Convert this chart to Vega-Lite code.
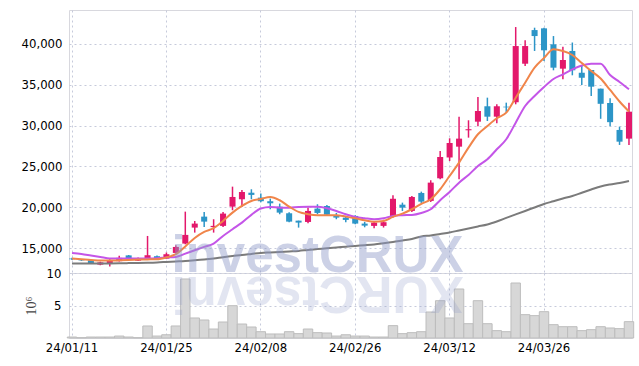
{
  "$schema": "https://vega.github.io/schema/vega-lite/v6.json",
  "padding": {"left": 20, "top": 9, "right": 9, "bottom": 5},
  "background": "white",
  "spacing": 0,
  "bounds": "flush",
  "config": {
    "font": "DejaVu Sans Condensed, sans-serif",
    "view": {"stroke": "#d8d8de"},
    "axis": {
      "labelFont": "DejaVu Sans Condensed",
      "labelFontSize": 13,
      "labelColor": "#000000",
      "labelFontWeight": "normal",
      "gridColor": "#c6cadb",
      "gridDash": [2, 3],
      "gridWidth": 1,
      "ticks": false,
      "domain": false
    }
  },
  "datasets": {
    "ohlc": [
      {"d": "24/01/11", "o": 13760, "h": 13850, "l": 13600, "c": 13680, "v": 0.15, "ma5": 13756, "ma10": 14451, "ma60": 13146},
      {"d": "24/01/12", "o": 13600, "h": 13700, "l": 13480, "c": 13540, "v": 0.05, "ma5": 13682, "ma10": 14329, "ma60": 13146},
      {"d": "24/01/15", "o": 13560, "h": 13600, "l": 13150, "c": 13200, "v": 0.15, "ma5": 13597, "ma10": 14146, "ma60": 13158},
      {"d": "24/01/16", "o": 13020, "h": 13380, "l": 12950, "c": 13300, "v": 0.15, "ma5": 13512, "ma10": 13963, "ma60": 13170},
      {"d": "24/01/17", "o": 13200, "h": 13680, "l": 12800, "c": 13500, "v": 0.15, "ma5": 13512, "ma10": 13780, "ma60": 13170},
      {"d": "24/01/18", "o": 13440, "h": 14100, "l": 13400, "c": 13850, "v": 0.3, "ma5": 13560, "ma10": 13756, "ma60": 13182},
      {"d": "24/01/19", "o": 14150, "h": 14200, "l": 13600, "c": 13650, "v": 0.15, "ma5": 13597, "ma10": 13780, "ma60": 13207},
      {"d": "24/01/22", "o": 13500, "h": 13900, "l": 13450, "c": 13780, "v": 0.05, "ma5": 13634, "ma10": 13780, "ma60": 13231},
      {"d": "24/01/23", "o": 13680, "h": 16520, "l": 13650, "c": 14170, "v": 1.85, "ma5": 13658, "ma10": 13780, "ma60": 13255},
      {"d": "24/01/24", "o": 14050, "h": 14150, "l": 13650, "c": 13700, "v": 0.3, "ma5": 13682, "ma10": 13804, "ma60": 13292},
      {"d": "24/01/25", "o": 13750, "h": 14500, "l": 13700, "c": 14290, "v": 0.5, "ma5": 13902, "ma10": 13902, "ma60": 13353},
      {"d": "24/01/26", "o": 14450, "h": 15400, "l": 14400, "c": 15180, "v": 1.85, "ma5": 14292, "ma10": 13963, "ma60": 13414},
      {"d": "24/01/29", "o": 15590, "h": 19490, "l": 15500, "c": 16650, "v": 9.08, "ma5": 15244, "ma10": 14366, "ma60": 13475},
      {"d": "24/01/30", "o": 17540, "h": 18350, "l": 16930, "c": 18030, "v": 3.08, "ma5": 16281, "ma10": 14780, "ma60": 13560},
      {"d": "24/01/31", "o": 18880, "h": 19450, "l": 17620, "c": 18270, "v": 2.77, "ma5": 17013, "ma10": 15183, "ma60": 13658},
      {"d": "24/02/01", "o": 17600, "h": 18560, "l": 16930, "c": 17750, "v": 1.38, "ma5": 17464, "ma10": 15586, "ma60": 13780},
      {"d": "24/02/02", "o": 17750, "h": 19450, "l": 17600, "c": 19250, "v": 2.46, "ma5": 18355, "ma10": 16525, "ma60": 13926},
      {"d": "24/02/05", "o": 20100, "h": 22540, "l": 19660, "c": 21280, "v": 4.97, "ma5": 19368, "ma10": 17342, "ma60": 14061},
      {"d": "24/02/06", "o": 21000, "h": 22140, "l": 20060, "c": 21890, "v": 2.15, "ma5": 20185, "ma10": 18148, "ma60": 14207},
      {"d": "24/02/07", "o": 21800, "h": 22220, "l": 21000, "c": 21530, "v": 1.69, "ma5": 20795, "ma10": 19100, "ma60": 14329},
      {"d": "24/02/08", "o": 21200, "h": 21690, "l": 20640, "c": 20760, "v": 0.97, "ma5": 21039, "ma10": 19880, "ma60": 14451},
      {"d": "24/02/13", "o": 20760, "h": 21080, "l": 19780, "c": 20510, "v": 0.62, "ma5": 21283, "ma10": 20063, "ma60": 14512},
      {"d": "24/02/14", "o": 20100, "h": 20470, "l": 19170, "c": 19370, "v": 0.62, "ma5": 20880, "ma10": 19978, "ma60": 14573},
      {"d": "24/02/15", "o": 19290, "h": 19400, "l": 18200, "c": 18270, "v": 0.97, "ma5": 20100, "ma10": 19978, "ma60": 14634},
      {"d": "24/02/16", "o": 18390, "h": 18390, "l": 17540, "c": 18150, "v": 0.67, "ma5": 19453, "ma10": 20063, "ma60": 14695},
      {"d": "24/02/19", "o": 18230, "h": 19980, "l": 18075, "c": 19575, "v": 1.38, "ma5": 19172, "ma10": 20100, "ma60": 14817},
      {"d": "24/02/20", "o": 19860, "h": 20390, "l": 19170, "c": 19330, "v": 0.82, "ma5": 19050, "ma10": 20100, "ma60": 14915},
      {"d": "24/02/21", "o": 20185, "h": 20300, "l": 19050, "c": 19120, "v": 0.77, "ma5": 19050, "ma10": 19904, "ma60": 15024},
      {"d": "24/02/22", "o": 19050, "h": 19330, "l": 18560, "c": 18760, "v": 0.3, "ma5": 19050, "ma10": 19575, "ma60": 15122},
      {"d": "24/02/23", "o": 18760, "h": 19000, "l": 18200, "c": 18480, "v": 0.5, "ma5": 18880, "ma10": 19172, "ma60": 15207},
      {"d": "24/02/26", "o": 18965, "h": 19050, "l": 17950, "c": 18030, "v": 0.3, "ma5": 18684, "ma10": 18843, "ma60": 15305},
      {"d": "24/02/27", "o": 18030, "h": 18250, "l": 17580, "c": 17780, "v": 0.3, "ma5": 18440, "ma10": 18684, "ma60": 15390},
      {"d": "24/02/28", "o": 17750, "h": 18355, "l": 17460, "c": 18150, "v": 0.15, "ma5": 18270, "ma10": 18562, "ma60": 15488},
      {"d": "24/02/29", "o": 17750, "h": 18500, "l": 17550, "c": 18200, "v": 0.15, "ma5": 18355, "ma10": 18684, "ma60": 15634},
      {"d": "24/03/04", "o": 18880, "h": 21490, "l": 18760, "c": 21060, "v": 1.9, "ma5": 18843, "ma10": 18965, "ma60": 15793},
      {"d": "24/03/05", "o": 20340, "h": 20590, "l": 19575, "c": 19980, "v": 0.67, "ma5": 19246, "ma10": 19050, "ma60": 15976},
      {"d": "24/03/06", "o": 19575, "h": 21400, "l": 19450, "c": 21280, "v": 0.82, "ma5": 19782, "ma10": 19087, "ma60": 16159},
      {"d": "24/03/07", "o": 21770, "h": 21930, "l": 20550, "c": 20710, "v": 0.97, "ma5": 20429, "ma10": 19331, "ma60": 16464},
      {"d": "24/03/08", "o": 20800, "h": 23320, "l": 20670, "c": 23030, "v": 4.0, "ma5": 21002, "ma10": 19782, "ma60": 16586},
      {"d": "24/03/11", "o": 23560, "h": 26900, "l": 23440, "c": 26160, "v": 5.74, "ma5": 22222, "ma10": 20880, "ma60": 16769},
      {"d": "24/03/12", "o": 26100, "h": 28440, "l": 25670, "c": 27870, "v": 3.08, "ma5": 23845, "ma10": 21893, "ma60": 16952},
      {"d": "24/03/13", "o": 27420, "h": 31080, "l": 23440, "c": 28400, "v": 7.54, "ma5": 25468, "ma10": 23028, "ma60": 17196},
      {"d": "24/03/14", "o": 29420, "h": 30640, "l": 28520, "c": 29550, "v": 2.2, "ma5": 27298, "ma10": 23967, "ma60": 17440},
      {"d": "24/03/15", "o": 30470, "h": 33480, "l": 29910, "c": 31775, "v": 5.74, "ma5": 28932, "ma10": 25065, "ma60": 17684},
      {"d": "24/03/18", "o": 32350, "h": 33400, "l": 30550, "c": 31080, "v": 2.2, "ma5": 29945, "ma10": 25882, "ma60": 17928},
      {"d": "24/03/19", "o": 31080, "h": 32590, "l": 30270, "c": 32350, "v": 1.13, "ma5": 30884, "ma10": 27102, "ma60": 18294},
      {"d": "24/03/20", "o": 32300, "h": 32790, "l": 31570, "c": 32220, "v": 0.97, "ma5": 31568, "ma10": 28322, "ma60": 18721},
      {"d": "24/03/21", "o": 32840, "h": 42020, "l": 32590, "c": 39700, "v": 8.46, "ma5": 33398, "ma10": 30348, "ma60": 19148},
      {"d": "24/03/22", "o": 37545, "h": 40400, "l": 37270, "c": 39700, "v": 3.59, "ma5": 35228, "ma10": 32385, "ma60": 19575},
      {"d": "24/03/25", "o": 41650, "h": 41940, "l": 39100, "c": 40920, "v": 3.44, "ma5": 37058, "ma10": 33605, "ma60": 20002},
      {"d": "24/03/26", "o": 41860, "h": 41940, "l": 37870, "c": 39180, "v": 4.05, "ma5": 38241, "ma10": 34703, "ma60": 20429},
      {"d": "24/03/27", "o": 39910, "h": 40920, "l": 36740, "c": 37060, "v": 2.05, "ma5": 39302, "ma10": 35679, "ma60": 20758},
      {"d": "24/03/28", "o": 36940, "h": 39620, "l": 35640, "c": 38000, "v": 1.74, "ma5": 39095, "ma10": 36252, "ma60": 21088},
      {"d": "24/03/29", "o": 39100, "h": 40130, "l": 36130, "c": 36740, "v": 1.74, "ma5": 38607, "ma10": 36862, "ma60": 21405},
      {"d": "24/04/01", "o": 36450, "h": 37350, "l": 34950, "c": 35840, "v": 1.13, "ma5": 37631, "ma10": 37326, "ma60": 21795},
      {"d": "24/04/02", "o": 36780, "h": 36780, "l": 33600, "c": 34740, "v": 1.28, "ma5": 36655, "ma10": 37546, "ma60": 22185},
      {"d": "24/04/03", "o": 34500, "h": 34500, "l": 30820, "c": 32650, "v": 1.74, "ma5": 35740, "ma10": 37546, "ma60": 22564},
      {"d": "24/04/04", "o": 32750, "h": 33320, "l": 29910, "c": 30410, "v": 1.54, "ma5": 34337, "ma10": 36167, "ma60": 22808},
      {"d": "24/04/05", "o": 29460, "h": 29860, "l": 27630, "c": 28030, "v": 1.44, "ma5": 32934, "ma10": 35313, "ma60": 22991},
      {"d": "24/04/08", "o": 28400, "h": 32790, "l": 27630, "c": 31690, "v": 2.51, "ma5": 31714, "ma10": 34422, "ma60": 23235}
    ],
    "mark": [
      {"label": "investCRUX", "mirror": "XURCtsevni", "d": "24/02/20", "p": 12150, "vol": 9.4}
    ]
  },
  "vconcat": [
    {
      "width": 563,
      "height": 263,
      "layer": [
        {
          "data": {"name": "ohlc"},
          "mark": {"type": "rule", "strokeWidth": 1.5},
          "encoding": {
            "x": {
              "field": "d", "type": "ordinal", "sort": null,
              "scale": {"paddingInner": 0.36, "paddingOuter": 0},
              "axis": {"values": ["24/01/11", "24/01/25", "24/02/08", "24/02/26", "24/03/12", "24/03/26"], "labels": false, "grid": true, "bandPosition": 0.5, "title": null}
            },
            "y": {
              "field": "l", "type": "quantitative",
              "scale": {"domain": [12000, 44100], "nice": false, "zero": false},
              "axis": {"values": [15000, 20000, 25000, 30000, 35000, 40000], "format": ",d", "labelPadding": 7, "title": null, "grid": true}
            },
            "y2": {"field": "h"},
            "color": {"condition": {"test": "datum.c >= datum.o", "value": "#e3186b"}, "value": "#2c95c7"}
          }
        },
        {
          "data": {"name": "ohlc"},
          "mark": {"type": "bar"},
          "encoding": {
            "x": {"field": "d", "type": "ordinal", "sort": null},
            "y": {"field": "o", "type": "quantitative"},
            "y2": {"field": "c"},
            "color": {"condition": {"test": "datum.c >= datum.o", "value": "#e3186b"}, "value": "#2c95c7"}
          }
        },
        {
          "data": {"name": "ohlc"},
          "mark": {"type": "line", "color": "#7b7b7b", "strokeWidth": 2, "interpolate": "monotone"},
          "encoding": {
            "x": {"field": "d", "type": "ordinal", "sort": null},
            "y": {"field": "ma60", "type": "quantitative"}
          }
        },
        {
          "data": {"name": "ohlc"},
          "mark": {"type": "line", "color": "#c455e8", "strokeWidth": 2, "interpolate": "monotone"},
          "encoding": {
            "x": {"field": "d", "type": "ordinal", "sort": null},
            "y": {"field": "ma10", "type": "quantitative"}
          }
        },
        {
          "data": {"name": "ohlc"},
          "mark": {"type": "line", "color": "#f0854a", "strokeWidth": 2, "interpolate": "monotone"},
          "encoding": {
            "x": {"field": "d", "type": "ordinal", "sort": null},
            "y": {"field": "ma5", "type": "quantitative"}
          }
        },
        {
          "data": {"name": "mark"},
          "mark": {"type": "text", "font": "Liberation Sans", "fontWeight": "bold", "fontSize": 51, "color": "#8f9bc9", "opacity": 0.45, "align": "center", "baseline": "alphabetic"},
          "encoding": {
            "x": {"field": "d", "type": "ordinal", "sort": null},
            "y": {"field": "p", "type": "quantitative"},
            "text": {"field": "label"}
          }
        }
      ]
    },
    {
      "width": 563,
      "height": 65,
      "layer": [
        {
          "data": {"name": "ohlc"},
          "mark": {"type": "bar", "fill": "#d7d7d7", "stroke": "#bdbdbd", "strokeWidth": 1, "width": {"band": 1.5625}},
          "encoding": {
            "x": {
              "field": "d", "type": "ordinal", "sort": null,
              "scale": {"paddingInner": 0.36, "paddingOuter": 0},
              "axis": {"values": ["24/01/11", "24/01/25", "24/02/08", "24/02/26", "24/03/12", "24/03/26"], "labelAngle": 0, "labelPadding": 3, "grid": true, "bandPosition": 0.5, "title": null}
            },
            "y": {
              "field": "v", "type": "quantitative",
              "scale": {"domain": [0, 10], "nice": false},
              "axis": {"values": [5, 10], "labelPadding": 8, "grid": true, "title": "10⁶", "titleFont": "Liberation Serif", "titleFontSize": 14, "titleFontWeight": "normal", "titleColor": "#444444", "titlePadding": 8}
            }
          }
        },
        {
          "data": {"name": "mark"},
          "mark": {"type": "text", "font": "Liberation Sans", "fontWeight": "bold", "fontSize": 51, "color": "#8f9bc9", "opacity": 0.25, "align": "center", "baseline": "alphabetic", "angle": 180},
          "encoding": {
            "x": {"field": "d", "type": "ordinal", "sort": null},
            "y": {"field": "vol", "type": "quantitative"},
            "text": {"field": "mirror"}
          }
        }
      ]
    }
  ]
}
